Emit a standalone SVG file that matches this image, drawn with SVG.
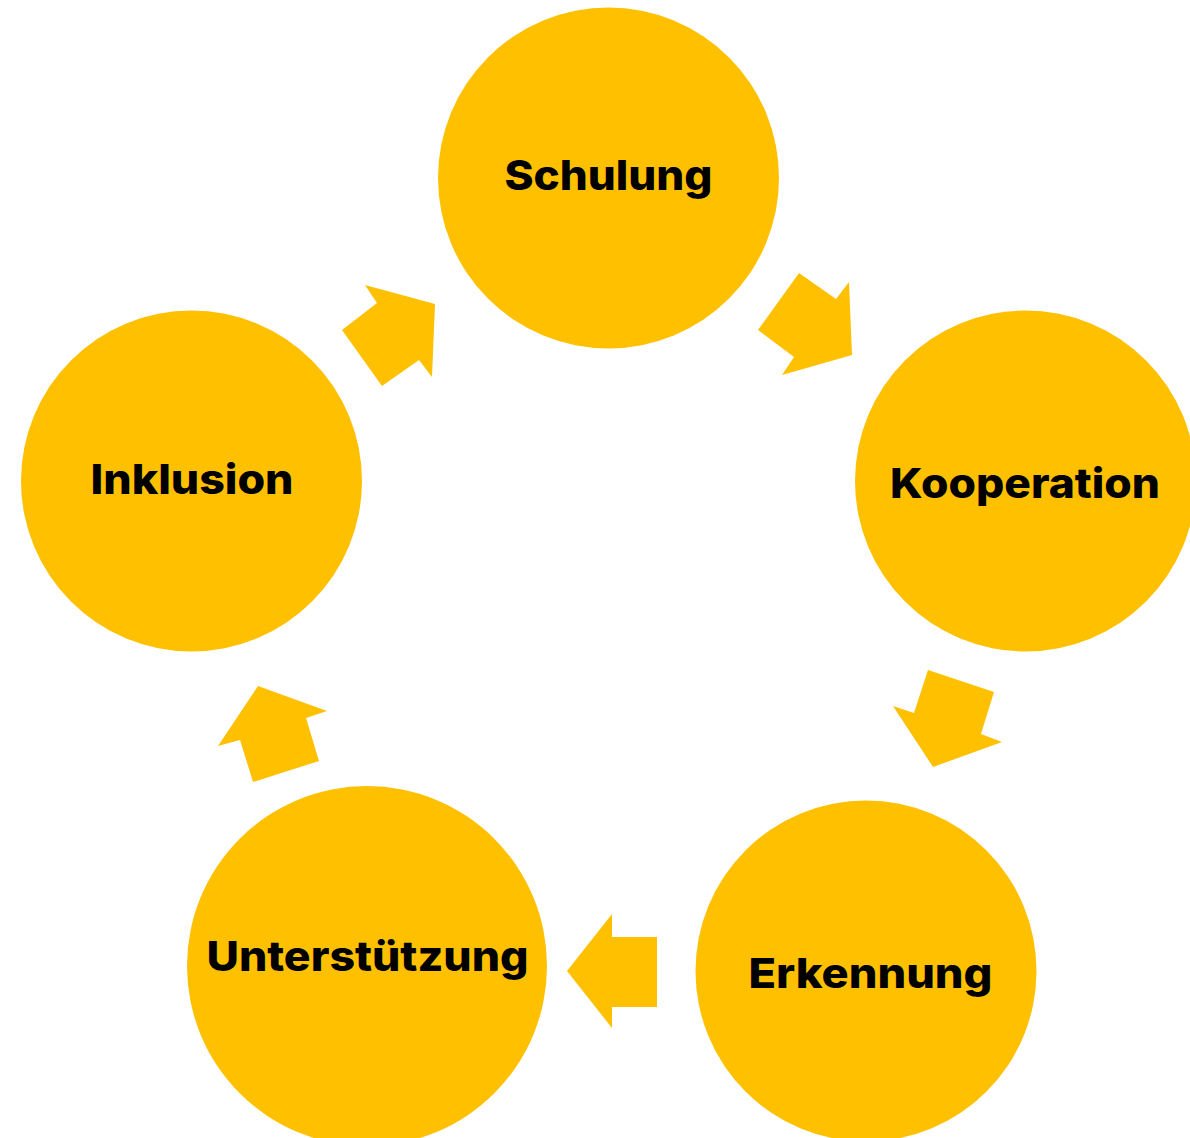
<svg xmlns="http://www.w3.org/2000/svg" width="1190" height="1138" viewBox="0 0 1190 1138">
<style>
.node{fill:#FFC000}
.arrow{fill:#FFC000}
.label{font-family:Inter,"Liberation Sans",sans-serif;font-weight:800;font-size:41px;fill:#000;text-anchor:middle}
</style>
<rect width="1190" height="1138" fill="#fff"/>
<g id="connectors">
<polygon class="arrow" points="365,285 435,304 432,377 419,360 382,386 342,330 377,303"/>
<polygon class="arrow" points="799,273 836,299 849,282 852,355 782,375 794,357 758,330"/>
<polygon class="arrow" points="928,670 994,692 981,734 1002,742 933,767 893,706 914,713"/>
<polygon class="arrow" points="612,914 612,937 657,937 657,1007 612,1007 612,1028 567,971"/>
<polygon class="arrow" points="258,686 327,711 306,718 319,761 253,782 240,740 218,746"/>
</g>
<g id="schulung">
<circle class="node" cx="608.5" cy="178" r="170.5"/>
<text class="label" x="608.5" y="190" textLength="208" lengthAdjust="spacingAndGlyphs">Schulung</text>
</g>
<g id="kooperation">
<circle class="node" cx="1025.5" cy="481" r="170.5"/>
<text class="label" x="1025" y="498" textLength="270" lengthAdjust="spacingAndGlyphs">Kooperation</text>
</g>
<g id="erkennung">
<circle class="node" cx="866" cy="971" r="170.5"/>
<text class="label" x="870.5" y="988" textLength="244" lengthAdjust="spacingAndGlyphs">Erkennung</text>
</g>
<g id="unterstuetzung">
<circle class="node" cx="367" cy="966" r="180"/>
<text class="label" x="367.5" y="971" textLength="322" lengthAdjust="spacingAndGlyphs">Unterstützung</text>
</g>
<g id="inklusion">
<circle class="node" cx="191.5" cy="481" r="170.5"/>
<text class="label" x="192" y="494" textLength="203" lengthAdjust="spacingAndGlyphs">Inklusion</text>
</g>
</svg>
